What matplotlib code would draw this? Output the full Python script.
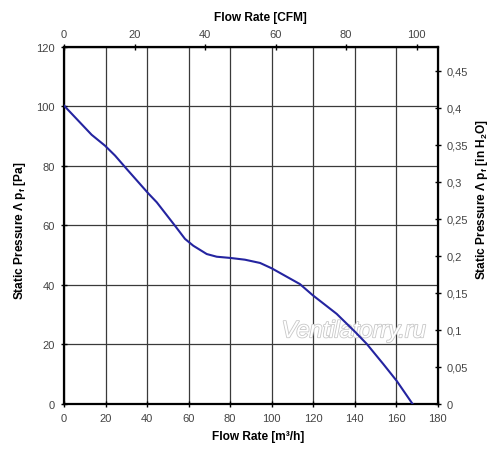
import matplotlib.pyplot as plt
import matplotlib.patheffects as pe
import numpy as np

plt.rcParams['font.family'] = ['Liberation Sans', 'DejaVu Sans']
plt.rcParams['mathtext.fontset'] = 'custom'
plt.rcParams['mathtext.rm'] = 'Liberation Sans'
plt.rcParams['mathtext.bf'] = 'Liberation Sans:bold'

# curve: flow [m3/h], static pressure [Pa]
flow = [0, 13.3, 19.8, 24.6, 30.2, 40.6, 44.7, 53.5, 58.3, 62.3, 68.8, 73.6, 80.0,
        87.2, 94.5, 100.1, 113.7, 119.8, 131.4, 140.2, 145.9, 153.9, 160.3, 168.0]
pressure = [100.3, 90.5, 86.8, 83.5, 79.0, 70.8, 67.8, 59.9, 55.5, 53.2, 50.4, 49.5, 49.1,
            48.5, 47.4, 45.6, 40.3, 36.6, 30.3, 24.3, 20.2, 13.4, 7.8, 0.0]

x_ticks = [0, 20, 40, 60, 80, 100, 120, 140, 160, 180]
y_ticks = [0, 20, 40, 60, 80, 100, 120]
cfm_ticks = [0, 20, 40, 60, 80, 100]
inh2o_ticks = [0, 0.05, 0.1, 0.15, 0.2, 0.25, 0.3, 0.35, 0.4, 0.45]
inh2o_labels = ['0', '0,05', '0,1', '0,15', '0,2', '0,25', '0,3', '0,35', '0,4', '0,45']

M3H_PER_CFM = 1.699
PA_PER_INH2O = 249.09

fig = plt.figure(figsize=(5, 4.6), dpi=100)
ax = fig.add_axes([0.128, 0.1196, 0.747, 0.7761])

ax.plot(flow, pressure, color='#2424a0', lw=1.5, zorder=3)
ax.set_xlim(0, 180)
ax.set_ylim(0, 120)
ax.set_xticks(x_ticks)
ax.set_yticks(y_ticks)
ax.grid(True, color='#3a3a3a', lw=0.9)
for s in ax.spines.values():
    s.set_linewidth(1.6)
    s.set_color('black')
ax.tick_params(direction='inout', length=5, width=1, labelsize=8, labelcolor='#444444', pad=4)

# top axis in CFM
top = ax.secondary_xaxis('top', functions=(lambda v: v / M3H_PER_CFM, lambda v: v * M3H_PER_CFM))
top.set_xticks(cfm_ticks)
top.tick_params(direction='inout', length=5, width=1, labelsize=8, labelcolor='#444444', pad=3)

# right axis in inches of water
right = ax.secondary_yaxis('right', functions=(lambda v: v / PA_PER_INH2O, lambda v: v * PA_PER_INH2O))
right.set_yticks(inh2o_ticks)
right.set_yticklabels(inh2o_labels)
right.tick_params(direction='inout', length=5, width=1, labelsize=8, labelcolor='#444444', pad=4)

# axis titles placed like in the original
lab = dict(fontsize=8.6, fontweight='bold', ha='center', va='center')
fig.text(0.516, 0.05, 'Flow Rate [m³/h]', **lab)
fig.text(0.52, 0.961, 'Flow Rate [CFM]', **lab)
fig.text(0.04, 0.498, r'Static Pressure Λ $\mathbf{p}_\mathbf{f}$ [Pa]', rotation=90, **lab)
fig.text(0.964, 0.565, r'Static Pressure Λ $\mathbf{p}_\mathbf{f}$ [in H$\mathbf{_2}$O]', rotation=90, **lab)

# watermark, under the curve
ax.text(0.776, 0.205, 'Ventilatorry.ru', transform=ax.transAxes, fontsize=17, style='italic',
        color='white', ha='center', va='center', zorder=2.5,
        path_effects=[pe.withStroke(linewidth=1.2, foreground='#c8c8c8')])

fig.savefig('out.png', dpi=100)
